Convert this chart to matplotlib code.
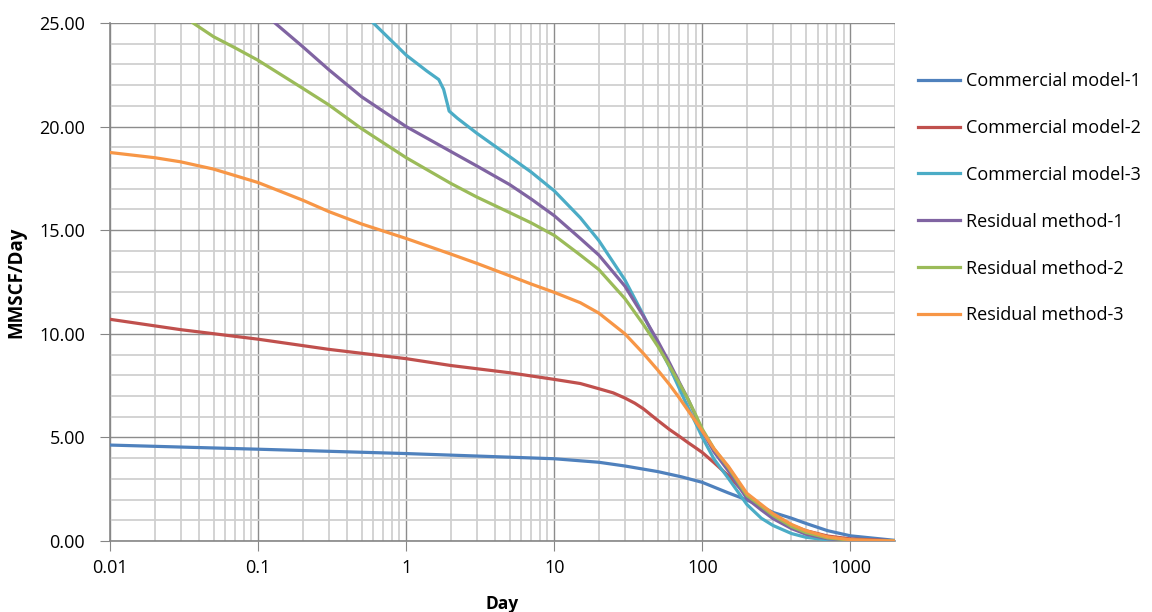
import matplotlib
matplotlib.use("Agg")
import matplotlib.pyplot as plt
from matplotlib.ticker import FixedLocator, FormatStrFormatter, NullFormatter

plt.rcParams['font.family'] = ['Open Sans', 'DejaVu Sans']

# values (Day, MMSCF/Day)
cm1_day = [0.01, 0.1, 1, 10, 20, 30, 50, 72, 100, 150, 200, 250, 300, 400, 500, 700, 1000, 2000]
cm1_rate = [4.63, 4.43, 4.22, 3.97, 3.80, 3.62, 3.35, 3.10, 2.83, 2.32, 1.98, 1.66, 1.38, 1.10, 0.85, 0.50, 0.25, 0.03]

cm2_day = [0.01, 0.03, 0.1, 0.3, 1, 2, 5, 10, 15, 20, 25, 30, 35, 40, 50, 60, 70, 80, 90, 100, 120, 150,
           200, 250, 300, 400, 500, 700, 1000, 2000]
cm2_rate = [10.70, 10.20, 9.74, 9.25, 8.80, 8.47, 8.12, 7.80, 7.60, 7.35, 7.15, 6.90, 6.65, 6.38, 5.82, 5.38,
            5.05, 4.75, 4.50, 4.27, 3.78, 3.15, 2.20, 1.62, 1.22, 0.76, 0.50, 0.24, 0.10, 0.01]

cm3_day = [0.6, 1, 1.38, 1.66, 1.79, 1.9, 1.95, 2.22, 3, 5, 7, 10, 15, 20, 30, 40, 50, 60, 70, 80, 90, 100,
           120, 150, 200, 250, 300, 400, 500, 700, 1000, 2000]
cm3_rate = [25.0, 23.45, 22.68, 22.27, 21.80, 21.08, 20.75, 20.40, 19.68, 18.55, 17.80, 16.90, 15.60, 14.50,
            12.60, 10.90, 9.50, 8.40, 7.35, 6.45, 5.70, 5.00, 3.95, 3.02, 1.76, 1.10, 0.75, 0.36, 0.18, 0.05,
            0.01, 0.0]

rm1_day = [0.13, 0.2, 0.3, 0.5, 1, 2, 3, 5, 7, 10, 15, 20, 30, 40, 50, 60, 70, 80, 90, 100, 120, 150, 200,
           250, 300, 400, 500, 700, 1000, 2000]
rm1_rate = [25.0, 23.86, 22.75, 21.44, 20.0, 18.80, 18.10, 17.20, 16.50, 15.70, 14.60, 13.80, 12.30, 10.85,
            9.65, 8.60, 7.65, 6.85, 6.05, 5.30, 4.30, 3.38, 2.05, 1.50, 1.08, 0.60, 0.33, 0.11, 0.03, 0.0]

rm2_day = [0.0364, 0.05, 0.07, 0.1, 0.2, 0.3, 0.5, 1, 2, 3, 5, 7, 10, 15, 20, 30, 40, 50, 60, 70, 80, 90,
           100, 120, 150, 200, 250, 300, 400, 500, 700, 1000, 2000]
rm2_rate = [25.0, 24.34, 23.80, 23.20, 21.85, 21.05, 19.90, 18.50, 17.26, 16.60, 15.85, 15.35, 14.75, 13.80,
            13.10, 11.70, 10.45, 9.40, 8.45, 7.60, 6.85, 6.10, 5.40, 4.45, 3.55, 2.20, 1.68, 1.24, 0.70,
            0.41, 0.15, 0.04, 0.0]

rm3_day = [0.01, 0.02, 0.03, 0.05, 0.1, 0.2, 0.3, 0.5, 1, 2, 3, 5, 7, 10, 15, 20, 30, 40, 50, 60, 70, 80, 90,
           100, 120, 150, 200, 250, 300, 400, 500, 700, 1000, 2000]
rm3_rate = [18.75, 18.50, 18.30, 17.95, 17.30, 16.45, 15.90, 15.30, 14.60, 13.85, 13.40, 12.80, 12.40, 12.00,
            11.50, 11.00, 10.00, 9.05, 8.25, 7.55, 6.90, 6.30, 5.78, 5.30, 4.45, 3.60, 2.30, 1.76, 1.32,
            0.80, 0.50, 0.20, 0.06, 0.0]

labels = ["Commercial model-1", "Commercial model-2", "Commercial model-3",
          "Residual method-1", "Residual method-2", "Residual method-3"]
colors = ["#4F81BD", "#C0504D", "#4BACC6", "#8064A2", "#9BBB59", "#F79646"]

x_ticks = [0.01, 0.1, 1, 10, 100, 1000]
x_ticklabels = ["0.01", "0.1", "1", "10", "100", "1000"]

fig = plt.figure(figsize=(11.52, 6.12), dpi=100)
ax = fig.add_axes([110 / 1152, 1 - 541 / 612, 785 / 1152, 518 / 612])

series = [(cm1_day, cm1_rate), (cm2_day, cm2_rate), (cm3_day, cm3_rate),
          (rm1_day, rm1_rate), (rm2_day, rm2_rate), (rm3_day, rm3_rate)]
for (d, r), lab, c in zip(series, labels, colors):
    ax.plot(d, r, color=c, lw=2.3, label=lab, solid_joinstyle="round", zorder=3)

ax.set_xscale("log")
ax.set_xlim(0.01, 2000)
ax.set_ylim(0, 25)

ax.xaxis.set_major_locator(FixedLocator(x_ticks))
ax.set_xticklabels(x_ticklabels)
ax.xaxis.set_minor_locator(FixedLocator([m * 10.0 ** e for e in range(-2, 4) for m in range(2, 10)]))
ax.xaxis.set_minor_formatter(NullFormatter())
ax.yaxis.set_major_locator(FixedLocator([0, 5, 10, 15, 20, 25]))
ax.yaxis.set_minor_locator(FixedLocator(range(0, 26)))
ax.yaxis.set_major_formatter(FormatStrFormatter("%.2f"))

ax.grid(which="major", color="#8c8c8c", lw=1.0, zorder=1)
ax.grid(which="minor", color="#d0d0d0", lw=1.3, zorder=0)
ax.set_axisbelow(True)

for s in ["top", "right"]:
    ax.spines[s].set_visible(False)
for s in ["left", "bottom"]:
    ax.spines[s].set_color("#868686")
    ax.spines[s].set_linewidth(1.2)

ax.tick_params(which="major", length=7, color="#868686", labelsize=13, labelcolor="black")
ax.tick_params(axis="x", which="major", pad=6)
ax.tick_params(axis="y", which="major", pad=11)
ax.tick_params(which="minor", length=0)

ax.set_xlabel("Day", fontsize=12.5, fontweight="bold", labelpad=13)
ax.set_ylabel("MMSCF/Day", fontsize=13.5, fontweight="bold", labelpad=9)

fig.legend(loc="upper left", bbox_to_anchor=(918 / 1152, 1 - 72 / 612), frameon=False,
           fontsize=13, handlelength=2.3, handletextpad=0.35, labelspacing=1.6,
           borderpad=0, borderaxespad=0)

fig.savefig("out.png", dpi=100)
